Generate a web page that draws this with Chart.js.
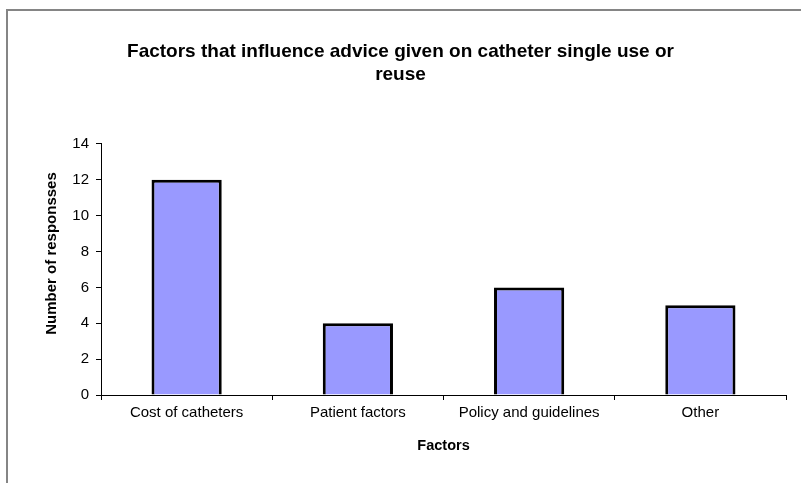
<!DOCTYPE html>
<html>
<head>
<meta charset="utf-8">
<script src="https://cdn.jsdelivr.net/npm/chart.js@4/dist/chart.umd.min.js"></script>
<style>
  html, body { margin: 0; padding: 0; background: #fff; }
  #wrap { position: relative; width: 801px; height: 483px; overflow: hidden; }
  #frame { position: absolute; left: 6px; top: 9px; width: 900px; height: 600px;
           border-top: 2px solid #858585; border-left: 2px solid #858585; }
  canvas { position: absolute; left: 0; top: 0; }
</style>
</head>
<body>
<div id="wrap">
  <div id="frame"></div>
  <canvas id="factorsChart" width="801" height="483"></canvas>
</div>
<script>
// respuestas por factor
const categorias = ["Cost of catheters", "Patient factors", "Policy and guidelines", "Other"];
const respuestas = [12, 4, 6, 5];
const ticksY = [0, 2, 4, 6, 8, 10, 12, 14];

const fuente = "'Liberation Sans', Arial, sans-serif";

// titulo del eje Y, algo por encima del centro como en Excel
const tituloEjeY = {
  id: "tituloEjeY",
  afterDraw(chart) {
    const ctx = chart.ctx;
    const area = chart.chartArea;
    ctx.save();
    ctx.translate(52, (area.top + area.bottom) / 2 - 16);
    ctx.rotate(-Math.PI / 2);
    ctx.font = "bold 15px " + fuente;
    ctx.fillStyle = "#000";
    ctx.textAlign = "center";
    ctx.textBaseline = "middle";
    ctx.fillText("Number of responsses", 0, 0);
    ctx.restore();
  }
};

new Chart(document.getElementById("factorsChart"), {
  type: "bar",
  data: {
    labels: categorias,
    datasets: [{
      data: respuestas,
      backgroundColor: "#9999ff",
      borderColor: "#000000",
      borderWidth: 3,
      barPercentage: 0.41,
      categoryPercentage: 1
    }]
  },
  options: {
    responsive: false,
    animation: false,
    layout: { padding: { left: 15, right: 15, top: 0, bottom: 0 } },
    plugins: {
      legend: { display: false },
      tooltip: { enabled: false },
      title: {
        display: true,
        text: ["Factors that influence advice given on catheter single use or", "reuse"],
        color: "#000",
        font: { family: fuente, size: 19, weight: "bold", lineHeight: 1.21 },
        padding: { top: 40, bottom: 58 }
      }
    },
    scales: {
      x: {
        afterFit: s => { s.height = 88; },
        grid: { display: true, offset: true, drawOnChartArea: false, color: "#000", tickLength: 5 },
        border: { display: true, color: "#000", width: 1 },
        ticks: { color: "#000", font: { family: fuente, size: 15 }, padding: 4, maxRotation: 0 },
        title: {
          display: true, text: "Factors", color: "#000",
          font: { family: fuente, size: 14.5, weight: "bold" },
          padding: { top: 4, bottom: 28 }
        }
      },
      y: {
        min: 0,
        max: 14,
        afterFit: s => { s.width = 86; },
        afterBuildTicks: s => { s.ticks = ticksY.map(v => ({ value: v })); },
        grid: { display: true, drawOnChartArea: false, color: "#000", tickLength: 5 },
        border: { display: true, color: "#000", width: 1 },
        ticks: { color: "#000", font: { family: fuente, size: 15 }, padding: 7 }
      }
    }
  },
  plugins: [tituloEjeY]
});
</script>
</body>
</html>
